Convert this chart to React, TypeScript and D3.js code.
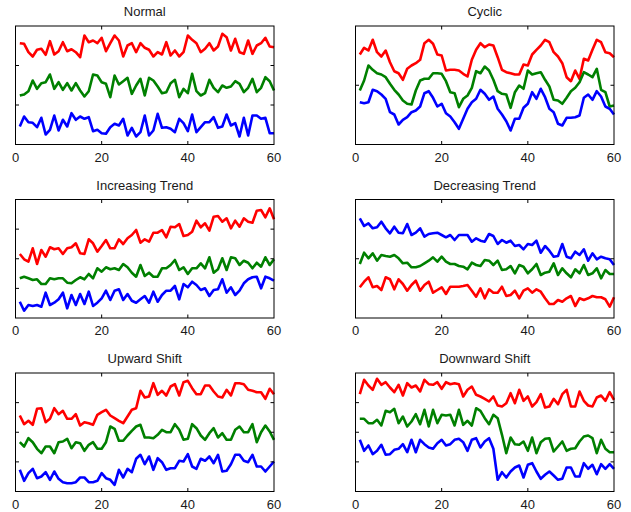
import { useEffect, useRef } from 'react';
import * as d3 from 'd3';

const [width, height] = [631, 512];
const colors = ['#ff0000', '#008000', '#0000ff'];
const xTickValues = [0, 20, 40, 60];

/** Series values (units above the panel floor) */
const normalRed = [101.3, 100.7, 92.3, 88, 94.7, 95.7, 89.7, 103.3, 90, 93.3, 102.3, 93.3, 95.3, 92.3, 87.3, 109, 102.3, 104, 101.3, 106.7, 93.3, 101.3, 109, 104, 88, 99, 101.3, 92.3, 101.3, 96.7, 94.7, 88, 92.3, 90, 102.3, 89, 94, 88, 92.3, 109, 104.7, 101.3, 92.3, 95.7, 101.3, 94, 98, 110.7, 107.3, 94, 105.7, 92.3, 90.7, 104, 90.7, 99, 101.3, 106.7, 98, 97.3];
const normalGreen = [49, 50, 53.3, 64, 55.7, 61.3, 62.3, 70, 55.7, 62.3, 54.7, 61.3, 54, 61.3, 54, 48, 53.3, 70, 69, 62.3, 60.7, 47.3, 69, 60, 63.3, 66.7, 50.7, 59, 65.7, 49, 66.7, 64, 58, 51.3, 52.3, 61.3, 64.7, 47.3, 55.7, 51.3, 70.7, 53.3, 49, 51.3, 64.7, 56.7, 52.3, 59, 56.7, 58, 63.3, 60.7, 52.3, 56.7, 65.7, 52.3, 56.7, 67.3, 63.3, 54];
const normalBlue = [18, 28, 22.3, 21.7, 17.3, 26.7, 10, 14.7, 29, 14, 24.7, 18, 31.3, 24.7, 28, 25.7, 27.3, 13.3, 14.7, 11.3, 10.7, 17.3, 20.7, 19, 25.7, 9, 16.7, 8, 12.3, 29, 9, 14, 30.7, 16.7, 17.3, 15.7, 12.3, 25.7, 21.3, 13.3, 30, 12.3, 17.3, 22.3, 22.3, 27.3, 16.7, 18, 30, 19, 21.3, 8, 26.7, 9, 29, 29, 25.7, 26.7, 11.3, 11.3];

const cyclicRed = [90, 96.7, 94, 104.7, 92.3, 88, 94, 82.3, 73.3, 71.3, 64.7, 75.7, 79, 81.3, 84.7, 101.3, 104.7, 100.7, 90, 89, 74, 74.7, 74.7, 74, 70.7, 68, 84.7, 94.7, 101.3, 97.3, 100, 99, 87.3, 74.7, 72.3, 71.3, 70, 70, 80, 79, 90, 94.7, 99, 104.7, 102.3, 92.3, 88, 81.3, 67.3, 63.3, 74, 65.7, 85.7, 84, 94.7, 104.7, 102.3, 92.3, 91.3, 87.3];
const cyclicGreen = [54, 64, 79, 74.7, 71.3, 70, 67.3, 60.7, 54.7, 50, 44, 40.7, 40, 54, 64, 65.7, 65.7, 71.3, 71.3, 70.7, 63.3, 52.3, 51.3, 37.3, 45.7, 49, 56.7, 73.3, 71.3, 78, 74, 64.7, 53.3, 50.7, 50, 36.7, 52.3, 59, 55.7, 74, 70, 71.3, 72.3, 64.7, 58, 44.7, 44, 40.7, 46.7, 53.3, 56.7, 62.3, 72.3, 70, 67.3, 75.7, 54.7, 52.3, 38, 39];
const cyclicBlue = [42.3, 41.3, 42.3, 54.7, 53.3, 50, 45.7, 32.3, 30, 20, 24.7, 27.3, 32.3, 34, 38, 51.3, 53.3, 46.7, 38, 40.7, 31.3, 28, 22.3, 15.7, 25.7, 35.7, 42.3, 45.7, 54.7, 50.7, 44.7, 48, 35.7, 30, 23.3, 14, 25.7, 25.7, 36.7, 40.7, 52.3, 45.7, 55.7, 47.3, 35.7, 32.3, 20.7, 19, 26.7, 26.7, 27.3, 29, 46.7, 50, 44.7, 53.3, 48, 38, 35.7, 30];

const increasingRed = [64, 58.7, 56.3, 69.7, 54, 68, 61.3, 70.7, 68.7, 69.7, 64, 69.7, 70.7, 74.7, 64.7, 64, 78.7, 74.7, 66.3, 72, 78, 69.7, 69.7, 78.7, 74, 79.7, 83, 88, 75.3, 78.7, 76.3, 85.3, 85.3, 88, 80.7, 91.3, 90.7, 94, 82, 83, 86.3, 97.3, 90.7, 94.7, 87.3, 101.3, 102, 96.3, 99.7, 89.7, 97.3, 91.3, 99.7, 96.3, 95.3, 107.3, 108, 100.7, 109.7, 98.7];
const increasingGreen = [39.7, 41.3, 39.7, 38, 38.7, 34, 34, 39.7, 38.7, 39.7, 39.7, 35.3, 34.7, 38, 40.7, 38.7, 44, 39.7, 49.7, 46.3, 50.7, 48.7, 49.7, 48, 54, 50.7, 45.3, 41.3, 53, 42, 45.3, 41.3, 41.3, 49.7, 49.7, 53, 58, 48, 50.7, 44, 49.7, 49.7, 54.7, 49.7, 60.7, 45.3, 48.7, 59.7, 48, 60.7, 59.7, 53, 57.3, 55.3, 49.7, 55.3, 51.3, 60.7, 53, 58.7];
const increasingBlue = [16.3, 7.3, 13, 12, 13, 11.3, 25.3, 13, 15.3, 18.7, 25.3, 9.7, 23, 13, 24, 14, 26.3, 12, 15.3, 19.7, 27.3, 18, 27.3, 28.7, 18, 24, 17.3, 15.3, 18.7, 22, 15.3, 26.3, 16.3, 23, 27.3, 27.3, 32, 18.7, 34, 30.7, 36.3, 33, 28, 29.7, 22, 28, 28.7, 38.7, 25.3, 30.7, 23, 27.3, 34.7, 38.7, 40.7, 41.3, 29.7, 41.3, 39.7, 37.3];

const decreasingRed = [30.7, 36.3, 40.7, 30.7, 32, 28, 40.7, 38.7, 28.7, 38.7, 34, 27.3, 33, 37.3, 27.3, 33, 36.3, 25.3, 28, 30.7, 24, 31.3, 31.3, 31.3, 32, 33, 27.3, 21.3, 29.7, 19.7, 28.7, 25.3, 25.3, 31.3, 22, 23, 27.3, 19.7, 27.3, 29.7, 25.3, 28.7, 26.3, 19.7, 14, 14, 18, 16.3, 19.7, 22, 12, 19.7, 18, 19.7, 22, 20.7, 20.7, 18.7, 11.3, 20.7];
const decreasingGreen = [54, 65.3, 59.7, 64.7, 57.3, 63, 62, 61.3, 63, 59.7, 54.7, 55.3, 50.7, 50.7, 52, 54.7, 57.3, 60.7, 56.3, 61.3, 56.3, 54, 54, 52, 51.3, 48.7, 55.3, 53, 52, 58, 57.3, 53, 57.3, 48, 48.7, 52, 44.7, 53, 51.3, 44.7, 48.7, 54, 43, 45.3, 46.3, 54.7, 43, 49.7, 44.7, 40.7, 48.7, 44.7, 53, 43, 44.7, 49.7, 39.7, 48, 44, 44];
const decreasingBlue = [99.7, 92, 94.7, 89.7, 90.7, 96.3, 89.7, 84.7, 91.3, 85.3, 84.7, 94, 83, 85.3, 89.7, 81.3, 84, 84.7, 85.3, 83, 80.7, 83, 78, 83, 83, 83, 76.3, 79.7, 77.3, 76.3, 84, 82, 74, 78, 75.3, 77.3, 72, 73, 68.7, 74, 73, 77.3, 65.3, 72, 67.3, 61.3, 62, 74, 61.3, 59.7, 66.3, 63, 68.7, 57.3, 64.7, 58.7, 61.3, 59.7, 58.7, 53];

const upwardRed = [76, 67.3, 70.7, 66.7, 82.7, 83.3, 69.3, 72.7, 83.3, 77.3, 80.7, 72.7, 72.7, 77.3, 66, 69.3, 68.3, 66.7, 76.7, 79.3, 81.7, 76, 73.3, 70.7, 68.3, 75, 81.7, 83.3, 100.7, 94, 95, 108.3, 96.7, 100.7, 96, 105, 107.3, 96, 109.3, 110.7, 103.3, 97.3, 97.3, 106, 106, 100, 95, 94, 101.7, 96, 108.3, 108.3, 107.3, 101.7, 100.7, 99.3, 99.3, 92.7, 102.7, 97.3];
const upwardGreen = [49.3, 45, 53.3, 49.3, 42.7, 38.3, 45, 45, 38.3, 49.3, 50, 52.7, 43.3, 49.3, 48.3, 40.7, 46.7, 49.3, 42.7, 42.7, 49.3, 65, 62.7, 50.7, 50.7, 56, 60.7, 65, 66.7, 54, 54, 53.3, 56.7, 61.7, 59.3, 59.3, 67.3, 61.7, 51.7, 52.7, 67.3, 63.3, 56, 51.7, 58.3, 63.3, 54, 58.3, 51.7, 51.7, 61.7, 65, 59.3, 59.3, 67.3, 49.3, 59.3, 66, 60, 51.7];
const upwardBlue = [21.7, 10.7, 18.3, 22.7, 13.3, 15, 19.3, 11.7, 20, 12.7, 9.3, 8.3, 8.3, 9.3, 14, 14, 9.3, 9.3, 10.7, 18.3, 13.3, 11.7, 6.7, 21.7, 14, 22.7, 19.3, 32.7, 36.7, 27.3, 35, 21.7, 33.3, 29.3, 21.7, 23.3, 23.3, 30.7, 30, 37.3, 25, 22.7, 32.7, 30.7, 35, 28.3, 36.7, 20, 20.7, 27.3, 36.7, 36.7, 30.7, 29.3, 36.7, 25, 25, 20, 25, 30];

const downwardRed = [97.3, 111.7, 106, 101.7, 112.7, 106.7, 109.3, 104, 99.3, 106.7, 96, 108.3, 104, 106, 100, 111.7, 107.3, 106.7, 109.3, 102.7, 109.3, 107.3, 108.3, 107.3, 95, 101.7, 105, 96.7, 95, 92.7, 90, 95, 86, 85, 88.3, 98.3, 88.3, 101.7, 90.7, 95, 85, 89.3, 97.3, 84, 85, 92.7, 87.3, 97.3, 101.7, 85, 85, 100, 90.7, 86, 85, 94, 96, 90.7, 99.3, 91.7];
const downwardGreen = [72.7, 72.7, 68.3, 68.3, 71.7, 66, 80.7, 79.3, 82.7, 68.3, 75, 65, 70, 77.3, 67.3, 81.7, 65, 81.7, 68.3, 76.7, 76, 76.7, 66, 81.7, 66.7, 70.7, 66, 83.3, 80.7, 73.3, 67.3, 76.7, 73.3, 56.7, 38.3, 54, 47.3, 46.7, 50, 40.7, 54, 38.3, 49.3, 52.7, 53.3, 40, 45, 50, 40.7, 42.7, 43.3, 50, 55, 56, 53.3, 38.3, 51.7, 42.7, 39.3, 39.3];
const downwardBlue = [51.7, 40.7, 46, 37.3, 40.7, 46.7, 36.7, 37.3, 41.7, 42.7, 47.3, 39.3, 51.7, 39.3, 51.7, 47.3, 44, 42.7, 48.3, 51.7, 46, 47.3, 51.7, 52.7, 49.3, 40.7, 51.7, 53.3, 44, 50, 53.3, 42.7, 11.7, 19.3, 14, 20, 24, 26, 14, 26.7, 28.3, 20, 12.7, 16.7, 20, 16, 11.7, 12.7, 24, 24, 15, 15, 28.3, 22.7, 26.7, 17.3, 27.3, 22.7, 27.3, 22.7];

/** Panels: title, series, number of y divisions */
const panels = [
    { title: 'Normal', series: [normalRed, normalGreen, normalBlue], div: 3 },
    { title: 'Cyclic', series: [cyclicRed, cyclicGreen, cyclicBlue], div: 2 },
    { title: 'Increasing Trend', series: [increasingRed, increasingGreen, increasingBlue], div: 4 },
    { title: 'Decreasing Trend', series: [decreasingRed, decreasingGreen, decreasingBlue], div: 2 },
    { title: 'Upward Shift', series: [upwardRed, upwardGreen, upwardBlue], div: 4 },
    { title: 'Downward Shift', series: [downwardRed, downwardGreen, downwardBlue], div: 4 },
];

const yMax = 118.5;
const colX = [15.5, 355.5];
const rowY = [26, 199.5, 373];
const [pw, ph] = [258.5, 118.5];
const tick = 3.5;

function App() {
    const node = useRef<SVGSVGElement>(null);
    useEffect(() => {
        if (!node.current) return;
        const svg = d3.select(node.current);
        svg.selectAll('*').remove();

        const x = d3.scaleLinear().domain([0, 60]).range([0, pw]);
        const y = d3.scaleLinear().domain([0, yMax]).range([ph, 0]);
        const line = d3.line<number>()
            .x((d, i) => x(i + 1))
            .y((d) => y(d));

        panels.forEach((p, k) => {
            const g = svg.append('g')
                .attr('transform', `translate(${colX[k % 2]},${rowY[Math.floor(k / 2)]})`);

            /** Title */
            g.append('text')
                .attr('x', pw / 2).attr('y', -10)
                .attr('text-anchor', 'middle')
                .attr('font-family', '"Liberation Sans", Arial, sans-serif')
                .attr('font-size', 13)
                .attr('fill', '#1a1a1a')
                .text(p.title);

            /** Lines */
            p.series.forEach((s, j) => {
                g.append('path')
                    .datum(s)
                    .attr('d', line)
                    .attr('fill', 'none')
                    .attr('stroke', colors[j])
                    .attr('stroke-width', 2.6)
                    .attr('stroke-linejoin', 'round');
            });

            /** Ticks (inside, mirrored) */
            const yt = d3.range(1, p.div).map((i) => (yMax * i) / p.div);
            g.selectAll('.yt').data(yt).enter().append('path')
                .attr('d', (d) => `M0,${y(d)}h${tick}M${pw},${y(d)}h${-tick}`)
                .attr('stroke', '#000').attr('stroke-width', 1);
            g.selectAll('.xt').data([20, 40]).enter().append('path')
                .attr('d', (d) => `M${x(d)},${ph}v${-tick}M${x(d)},0v${tick}`)
                .attr('stroke', '#000').attr('stroke-width', 1);

            /** Box */
            g.append('rect')
                .attr('width', pw).attr('height', ph)
                .attr('fill', 'none').attr('stroke', '#000').attr('stroke-width', 1);

            /** X labels */
            g.selectAll('.xl').data(xTickValues).enter().append('text')
                .attr('x', (d) => x(d)).attr('y', ph + 17)
                .attr('text-anchor', 'middle')
                .attr('font-family', '"Liberation Sans", Arial, sans-serif')
                .attr('font-size', 13)
                .attr('fill', '#1a1a1a')
                .text((d) => d);
        });
    }, [node]);

    return (
        <svg ref={node} width={width} height={height}
            style={{ position: 'absolute', left: 0, top: 0, background: '#fff' }}></svg>
    );
}

export default App;
